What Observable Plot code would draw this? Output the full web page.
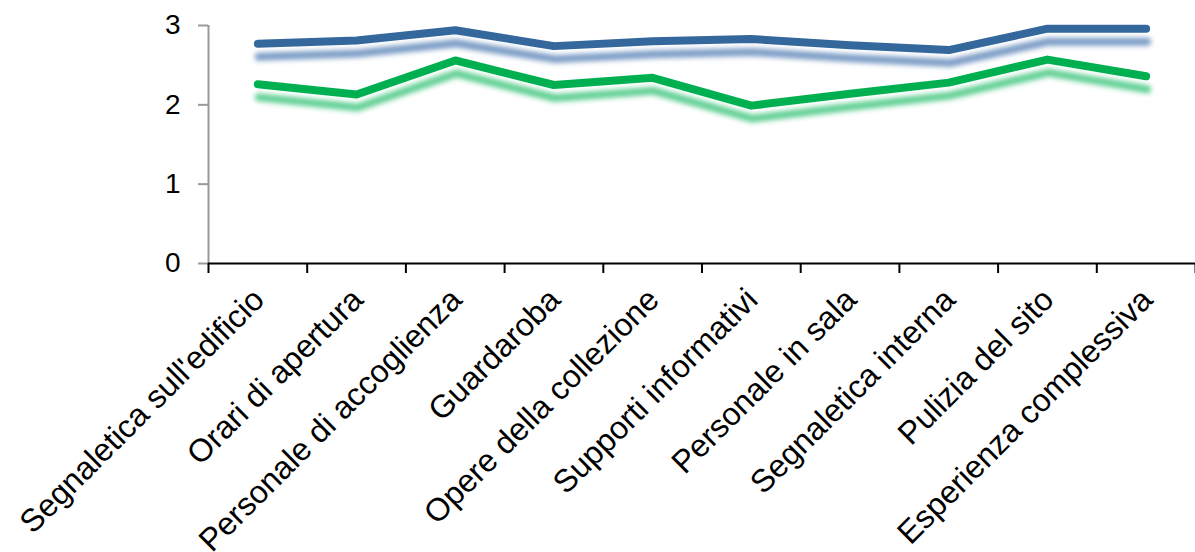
<!DOCTYPE html>
<html>
<head>
<meta charset="utf-8">
<script src="https://cdn.jsdelivr.net/npm/d3@7"></script>
<script src="https://cdn.jsdelivr.net/npm/@observablehq/plot@0.6"></script>
<style>
  html, body { margin: 0; padding: 0; background: #fff; }
  #chart { width: 1195px; height: 552px; overflow: hidden; }
</style>
</head>
<body>
<div id="chart"></div>
<script>
const categories = [
  "Segnaletica sull'edificio",
  "Orari di apertura",
  "Personale di accoglienza",
  "Guardaroba",
  "Opere della collezione",
  "Supporti informativi",
  "Personale in sala",
  "Segnaletica interna",
  "Pulizia del sito",
  "Esperienza complessiva"
];
const blueValues  = [2.77, 2.81, 2.94, 2.74, 2.80, 2.83, 2.75, 2.69, 2.96, 2.96];
const greenValues = [2.26, 2.13, 2.56, 2.25, 2.34, 1.99, 2.14, 2.28, 2.57, 2.36];
const yTicks = [0, 1, 2, 3];

const blueColor = "#34679b";
const greenColor = "#00b050";

const blueData = blueValues.map((v, i) => ({i, v}));
const greenData = greenValues.map((v, i) => ({i, v}));
const boundaries = d3.range(categories.length + 1).map(k => k - 0.5);

const hasAxisMarks = typeof Plot.axisY === "function";

const axisMarks = hasAxisMarks ? [
  Plot.axisY({ticks: yTicks, tickSize: 10, tickPadding: 18, tickFormat: d3.format("d"), fontSize: 28, stroke: "#999", strokeWidth: 2, fill: "#000", label: null}),
  Plot.axisX({ticks: boundaries, tickSize: 10, tickFormat: () => "", stroke: "#000", strokeWidth: 2, label: null})
] : [];

const chart = Plot.plot({
  width: 1195,
  height: 552,
  marginLeft: 208,
  marginRight: 0,
  marginTop: 25,
  marginBottom: 289,
  style: {fontFamily: "'Liberation Sans', Arial, sans-serif", fontSize: "28px", color: "#000", background: "#fff", overflow: "visible"},
  x: Object.assign({domain: [-0.5, categories.length - 0.5], label: null},
    hasAxisMarks ? {} : {ticks: boundaries, tickSize: 10, tickFormat: () => ""}),
  y: Object.assign({domain: [0, 3], label: null},
    hasAxisMarks ? {} : {ticks: yTicks, tickSize: 10, tickPadding: 18, tickFormat: d3.format("d")}),
  marks: [
    ...axisMarks,
    Plot.line(blueData, {x: "i", y: "v", stroke: "#5b84b8", strokeWidth: 8, strokeOpacity: 0.8, dy: 13, dx: 1, strokeLinecap: "round", strokeLinejoin: "round"}),
    Plot.line(greenData, {x: "i", y: "v", stroke: "#3cc47a", strokeWidth: 8, strokeOpacity: 0.8, dy: 13, dx: 1, strokeLinecap: "round", strokeLinejoin: "round"}),
    Plot.line(blueData, {x: "i", y: "v", stroke: blueColor, strokeWidth: 8, strokeLinecap: "round", strokeLinejoin: "round"}),
    Plot.line(greenData, {x: "i", y: "v", stroke: greenColor, strokeWidth: 8, strokeLinecap: "round", strokeLinejoin: "round"}),
    Plot.ruleX([-0.5], {y1: 0, y2: 3, stroke: "#999", strokeWidth: 2}),
    Plot.ruleY([0], {stroke: "#000", strokeWidth: 2}),
    Plot.text(categories, {x: (d, i) => i, frameAnchor: "bottom", text: d => d, rotate: -45, textAnchor: "end", lineAnchor: "middle", dy: 31, dx: 1, fontSize: 32, fill: "#000"})
  ]
});
document.getElementById("chart").appendChild(chart);

// soft blurred drop shadow like the original (SVG filter)
const ns = "http://www.w3.org/2000/svg";
const defs = document.createElementNS(ns, "defs");
const filter = document.createElementNS(ns, "filter");
filter.setAttribute("id", "softShadow");
filter.setAttribute("x", "-5%"); filter.setAttribute("y", "-100%");
filter.setAttribute("width", "110%"); filter.setAttribute("height", "300%");
const blur = document.createElementNS(ns, "feGaussianBlur");
blur.setAttribute("stdDeviation", "2.8");
filter.appendChild(blur);
defs.appendChild(filter);
chart.insertBefore(defs, chart.firstChild);
const lineGroups = chart.querySelectorAll('g[aria-label="line"]');
[0, 1].forEach(k => { if (lineGroups[k]) lineGroups[k].setAttribute("filter", "url(#softShadow)"); });
</script>
</body>
</html>
